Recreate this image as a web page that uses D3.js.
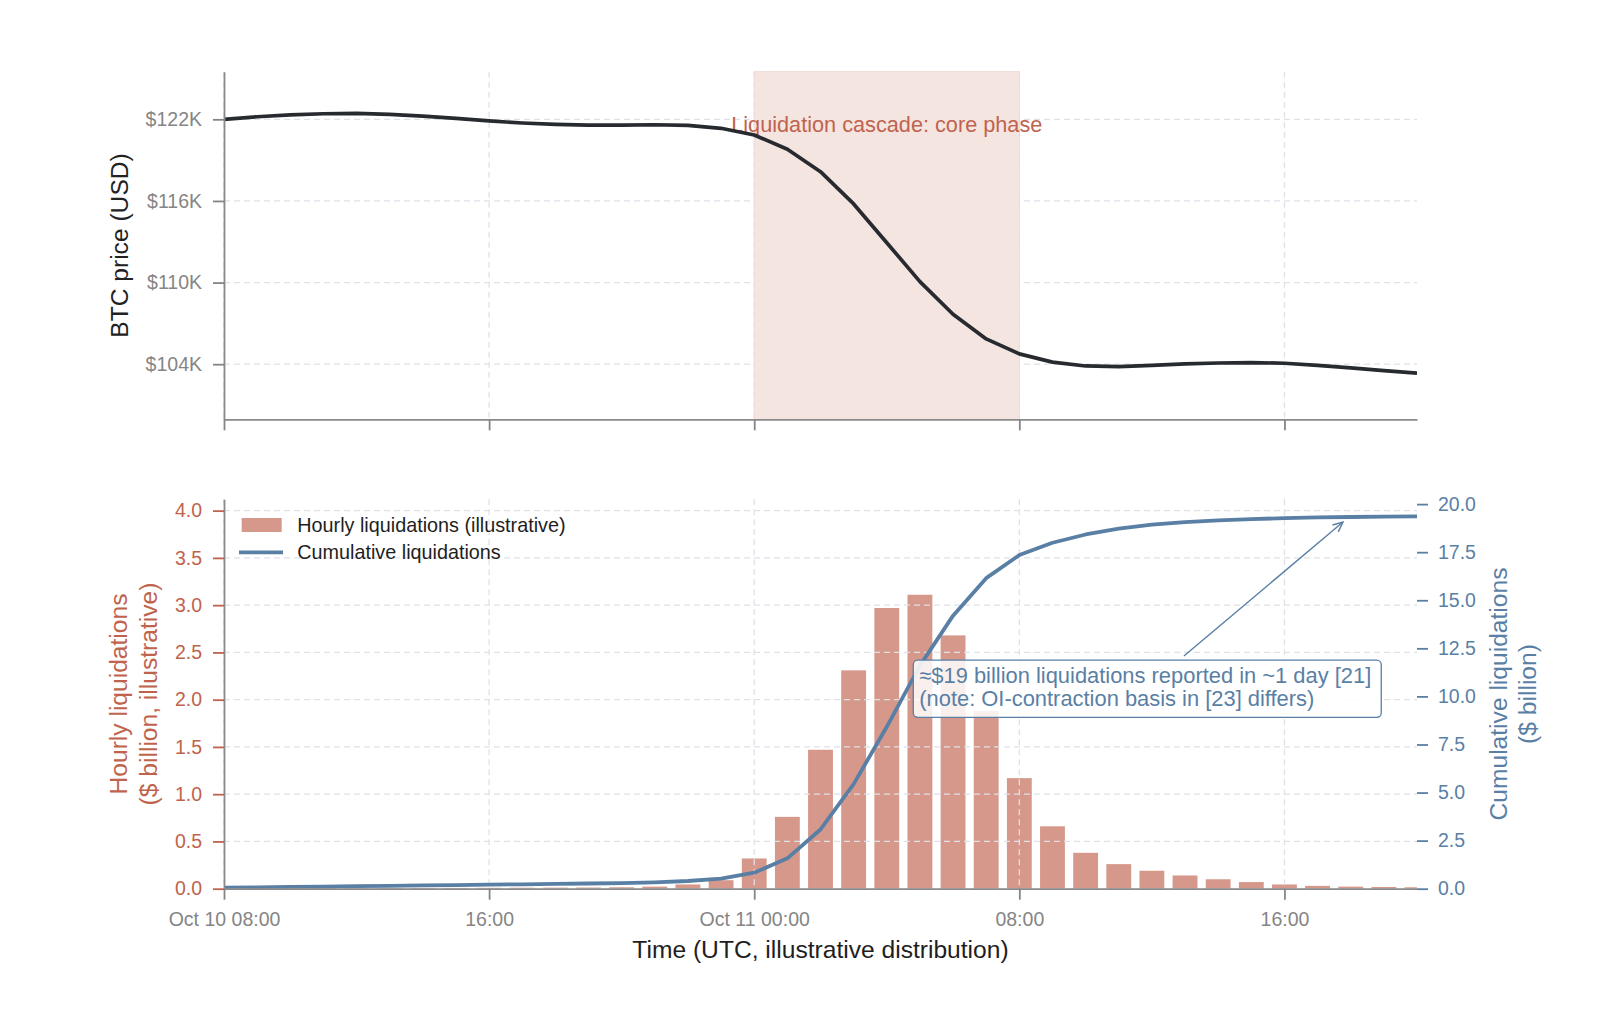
<!DOCTYPE html>
<html>
<head>
<meta charset="utf-8">
<script src="https://cdn.jsdelivr.net/npm/d3@7"></script>
<style>
  body { margin: 0; background: #fff; }
  svg text { font-family: "Liberation Sans", Arial, Helvetica, sans-serif; }
</style>
</head>
<body>
<svg></svg>
<script>
// ---- data ----
const tStart = new Date(Date.UTC(2025, 9, 10, 8));
const tEnd = new Date(Date.UTC(2025, 9, 11, 20));
const hours = d3.utcHour.range(tStart, d3.utcHour.offset(tEnd, 1)); // Oct 10 08:00 .. Oct 11 20:00

// BTC price, $K, one value per hour
const price = [122.0, 122.19, 122.32, 122.41, 122.44, 122.37, 122.24, 122.07, 121.88, 121.73, 121.63, 121.58,
  121.58, 121.6, 121.56, 121.34, 120.85, 119.8, 118.15, 115.78, 112.93, 110.07, 107.67, 105.86,
  104.76, 104.15, 103.87, 103.82, 103.92, 104.02, 104.09, 104.12, 104.07, 103.92, 103.73, 103.53, 103.34];

// hourly liquidations, $ billion
const hourly = [0.004, 0.005, 0.005, 0.006, 0.006, 0.007, 0.008, 0.008, 0.009, 0.010, 0.011, 0.012,
  0.015, 0.022, 0.045, 0.09, 0.32, 0.76, 1.47, 2.31, 2.97, 3.11, 2.68, 1.88,
  1.17, 0.66, 0.38, 0.26, 0.19, 0.14, 0.10, 0.07, 0.045, 0.03, 0.022, 0.018, 0.015];

// cumulative liquidations, $ billion
const cumulative = [0.05, 0.07, 0.09, 0.11, 0.13, 0.15, 0.17, 0.19, 0.21, 0.23, 0.25, 0.27,
  0.29, 0.33, 0.40, 0.52, 0.83, 1.58, 3.08, 5.44, 8.42, 11.6, 14.2, 16.15,
  17.35, 17.99, 18.42, 18.72, 18.93, 19.06, 19.15, 19.22, 19.27, 19.31, 19.33, 19.35, 19.36];

const xTicks = [Date.UTC(2025, 9, 10, 8), Date.UTC(2025, 9, 10, 16), Date.UTC(2025, 9, 11, 0),
  Date.UTC(2025, 9, 11, 8), Date.UTC(2025, 9, 11, 16)].map(d => new Date(d));
const xTickLabels = ['Oct 10 08:00', '16:00', 'Oct 11 00:00', '08:00', '16:00'];
const priceTicks = [104, 110, 116, 122];
const hourlyTicks = [0, 0.5, 1, 1.5, 2, 2.5, 3, 3.5, 4];
const cumTicks = [0, 2.5, 5, 7.5, 10, 12.5, 15, 17.5, 20];

const cascade = [new Date(Date.UTC(2025, 9, 11, 0)), new Date(Date.UTC(2025, 9, 11, 8))];
const note = {
  lines: ['\u2248$19 billion liquidations reported in ~1 day [21]', '(note: OI-contraction basis in [23] differs)'],
  boxTime: new Date(Date.UTC(2025, 9, 11, 4, 48)), boxTop: 11.89,
  tail: [new Date(Date.UTC(2025, 9, 11, 12, 58)), 12.1],
  tip: [new Date(Date.UTC(2025, 9, 11, 17, 46)), 19.07]
};

// ---- layout ----
const width = 1600;
const height = 1022;
const left = 224, right = 1417;
const top1 = 71.7, bot1 = 419.3;
const top2 = 499.3, bot2 = 888.7;

const TERRA = '#c0634d';
const STEEL = '#5a7fa5';
const GRAY = '#858585';
const GRID = '#e0e1e7';

const svg = d3.select('svg').attr('width', width).attr('height', height);

const x = d3.scaleUtc().domain([tStart, tEnd]).range([left, right]);
const yP = d3.scaleLinear().domain([99.95, 125.5]).range([bot1, top1]);
const yH = d3.scaleLinear().domain([0, 4.12]).range([bot2, top2]);
const yC = d3.scaleLinear().domain([0, 20.25]).range([bot2, top2]);

const defs = svg.append('defs');
defs.append('clipPath').attr('id', 'clipTop').append('rect')
  .attr('x', left).attr('y', top1).attr('width', right - left).attr('height', bot1 - top1);
defs.append('clipPath').attr('id', 'clipBot').append('rect')
  .attr('x', left).attr('y', top2 - 5).attr('width', right - left).attr('height', bot2 - top2 + 5);
defs.append('marker')
  .attr('id', 'arrowHead')
  .attr('markerUnits', 'userSpaceOnUse')
  .attr('viewBox', '0 0 12 12')
  .attr('refX', 11).attr('refY', 6)
  .attr('markerWidth', 12).attr('markerHeight', 12)
  .attr('orient', 'auto')
  .append('path')
  .attr('d', 'M1,1.5 L11,6 L1,10.5')
  .attr('fill', 'none')
  .attr('stroke', STEEL)
  .attr('stroke-width', 1.4);

const hGrid = (g, scale, vals) => {
  g.selectAll(null).data(vals).join('line')
    .attr('x1', left).attr('x2', right)
    .attr('y1', d => scale(d)).attr('y2', d => scale(d))
    .attr('stroke', GRID).attr('stroke-width', 1.3).attr('stroke-dasharray', '6,4');
};
const vGrid = (g, y0, y1) => {
  g.selectAll(null).data(xTicks).join('line')
    .attr('x1', d => x(d)).attr('x2', d => x(d))
    .attr('y1', y0).attr('y2', y1)
    .attr('stroke', GRID).attr('stroke-width', 1.3).attr('stroke-dasharray', '6,4');
};
const styleAxis = (g, tickColor, textColor) => {
  g.attr('font-family', null).attr('font-size', null);
  g.select('.domain').attr('stroke', '#8a8a8a').attr('stroke-width', 1.8);
  g.selectAll('.tick line').attr('stroke', tickColor).attr('stroke-width', 1.8);
  g.selectAll('.tick text').attr('fill', textColor).style('font-size', '19.5px');
};

// ---- top panel ----
const topGrid = svg.append('g');
hGrid(topGrid, yP, priceTicks);
vGrid(topGrid, top1, bot1);

svg.append('rect')
  .attr('x', x(cascade[0])).attr('y', top1)
  .attr('width', x(cascade[1]) - x(cascade[0])).attr('height', bot1 - top1)
  .attr('fill', '#f5e5e1')
  .attr('stroke', '#efd9d4').attr('stroke-width', 1);

svg.append('text')
  .attr('x', (x(cascade[0]) + x(cascade[1])) / 2)
  .attr('y', 131.5)
  .attr('text-anchor', 'middle')
  .attr('fill', TERRA)
  .style('font-size', '21.7px')
  .text('Liquidation cascade: core phase');

svg.append('path')
  .datum(price)
  .attr('clip-path', 'url(#clipTop)')
  .attr('fill', 'none')
  .attr('stroke', '#272a2f')
  .attr('stroke-width', 3.7)
  .attr('stroke-linejoin', 'round')
  .attr('d', d3.line().x((d, i) => x(hours[i])).y(d => yP(d)));

const topY = svg.append('g')
  .attr('transform', `translate(${left},0)`)
  .call(d3.axisLeft(yP).tickValues(priceTicks).tickFormat(d => `$${d}K`).tickSize(11).tickPadding(11).tickSizeOuter(0));
styleAxis(topY, GRAY, GRAY);

const topX = svg.append('g')
  .attr('transform', `translate(0,${bot1})`)
  .call(d3.axisBottom(x).tickValues(xTicks).tickFormat('').tickSize(11).tickSizeOuter(0));
styleAxis(topX, GRAY, GRAY);

svg.append('text')
  .attr('transform', `translate(127.5,${(top1 + bot1) / 2}) rotate(-90)`)
  .attr('text-anchor', 'middle')
  .attr('fill', '#222')
  .style('font-size', '24.6px')
  .text('BTC price (USD)');

// ---- bottom panel ----
const bars = svg.append('g').attr('clip-path', 'url(#clipBot)');
const barW = x(d3.utcMinute.offset(tStart, 45)) - x(tStart);
bars.selectAll('rect').data(hourly).join('rect')
  .attr('x', (d, i) => x(hours[i]) - barW / 2)
  .attr('y', d => yH(d))
  .attr('width', barW)
  .attr('height', d => yH(0) - yH(d))
  .attr('fill', TERRA)
  .attr('fill-opacity', 0.66);

const botGrid = svg.append('g');
hGrid(botGrid, yH, hourlyTicks.slice(1));
vGrid(botGrid, top2, bot2);

svg.append('path')
  .datum(cumulative)
  .attr('clip-path', 'url(#clipBot)')
  .attr('fill', 'none')
  .attr('stroke', STEEL)
  .attr('stroke-width', 3.8)
  .attr('stroke-linejoin', 'round')
  .attr('d', d3.line().x((d, i) => x(hours[i])).y(d => yC(d)));

// legend
const legend = svg.append('g').attr('transform', `translate(${left},${top2})`);
legend.append('rect')
  .attr('x', 17.7).attr('y', 18.7).attr('width', 40).attr('height', 14)
  .attr('fill', TERRA).attr('fill-opacity', 0.66);
legend.append('line')
  .attr('x1', 15).attr('x2', 59).attr('y1', 53).attr('y2', 53)
  .attr('stroke', STEEL).attr('stroke-width', 3.8);
legend.selectAll('text').data(['Hourly liquidations (illustrative)', 'Cumulative liquidations']).join('text')
  .attr('x', 73.3)
  .attr('y', (d, i) => 26 + i * 27)
  .attr('dy', '0.35em')
  .attr('fill', '#1e1e1e')
  .style('font-size', '19.8px')
  .text(d => d);

// annotation box + arrow
const noteG = svg.append('g');
const boxX = x(note.boxTime);
const boxY = yC(note.boxTop);
const noteRect = noteG.append('rect');
const noteText = noteG.append('text')
  .attr('fill', STEEL)
  .style('font-size', '21.9px');
noteText.selectAll('tspan').data(note.lines).join('tspan')
  .attr('x', boxX + 6)
  .attr('y', (d, i) => boxY + 23.3 + i * 22.2)
  .text(d => d);
const bb = noteText.node().getBBox();
noteRect
  .attr('x', boxX).attr('y', boxY)
  .attr('width', bb.width + 16).attr('height', 57.3)
  .attr('rx', 4.5)
  .attr('fill', '#fff').attr('fill-opacity', 0.86)
  .attr('stroke', STEEL).attr('stroke-width', 1.3);

svg.append('line')
  .attr('x1', x(note.tail[0])).attr('y1', yC(note.tail[1]))
  .attr('x2', x(note.tip[0])).attr('y2', yC(note.tip[1]))
  .attr('stroke', STEEL).attr('stroke-width', 1.4)
  .attr('marker-end', 'url(#arrowHead)');

// axes
const leftAx = svg.append('g')
  .attr('transform', `translate(${left},0)`)
  .call(d3.axisLeft(yH).tickValues(hourlyTicks).tickFormat(d3.format('.1f')).tickSize(11).tickPadding(11).tickSizeOuter(0));
styleAxis(leftAx, TERRA, TERRA);

const rightAx = svg.append('g')
  .attr('transform', `translate(${right},0)`)
  .call(d3.axisRight(yC).tickValues(cumTicks).tickFormat(d3.format('.1f')).tickSize(11).tickPadding(10).tickSizeOuter(0));
styleAxis(rightAx, STEEL, STEEL);
rightAx.select('.domain').remove();

const botX = svg.append('g')
  .attr('transform', `translate(0,${bot2})`)
  .call(d3.axisBottom(x).tickValues(xTicks).tickFormat((d, i) => xTickLabels[i]).tickSize(11).tickPadding(12).tickSizeOuter(0));
styleAxis(botX, GRAY, GRAY);

// axis titles
svg.append('text')
  .attr('transform', `translate(127.3,${(top2 + bot2) / 2}) rotate(-90)`)
  .attr('text-anchor', 'middle')
  .attr('fill', TERRA)
  .style('font-size', '24.6px')
  .selectAll('tspan').data(['Hourly liquidations', '($ billion, illustrative)']).join('tspan')
  .attr('x', 0).attr('y', (d, i) => i * 29.6)
  .text(d => d);

svg.append('text')
  .attr('transform', `translate(1506.5,${(top2 + bot2) / 2}) rotate(-90)`)
  .attr('text-anchor', 'middle')
  .attr('fill', STEEL)
  .style('font-size', '24.6px')
  .selectAll('tspan').data(['Cumulative liquidations', '($ billion)']).join('tspan')
  .attr('x', 0).attr('y', (d, i) => i * 29.6)
  .text(d => d);

svg.append('text')
  .attr('x', (left + right) / 2)
  .attr('y', 958)
  .attr('text-anchor', 'middle')
  .attr('fill', '#1e1e1e')
  .style('font-size', '24.6px')
  .text('Time (UTC, illustrative distribution)');
</script>
</body>
</html>
